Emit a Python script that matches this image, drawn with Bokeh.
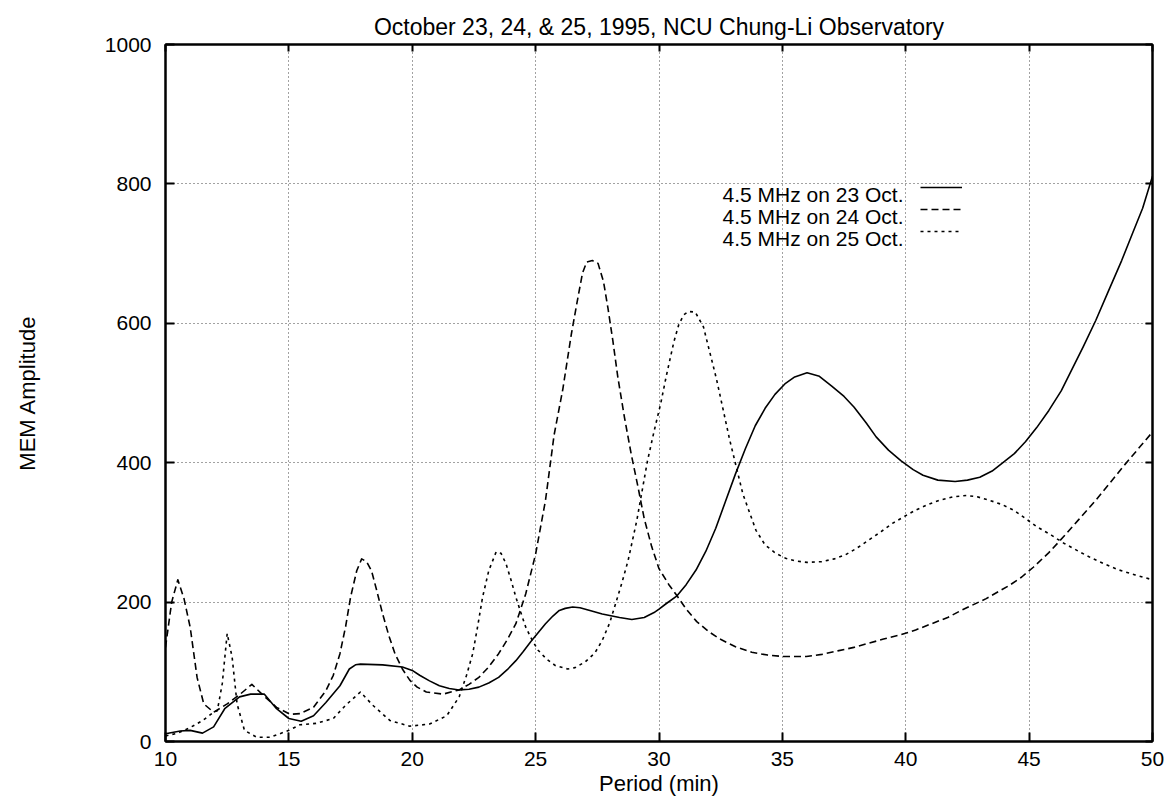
from bokeh.plotting import figure
from bokeh.models import (FixedTicker, LinearAxis, Legend, LegendItem, Label,
                          CustomJSTickFormatter)
from bokeh.embed import file_html
from bokeh.resources import INLINE

FONT = "Liberation Sans"

title_text = "October 23, 24, & 25, 1995, NCU Chung-Li Observatory"
x_label = "Period (min)"
y_label = "MEM Amplitude"
x_ticks = [10, 15, 20, 25, 30, 35, 40, 45, 50]
y_ticks = [0, 200, 400, 600, 800, 1000]

series_names = ["4.5 MHz on 23 Oct.", "4.5 MHz on 24 Oct.", "4.5 MHz on 25 Oct."]

# 23 Oct (solid)
x_23 = [10, 10.6, 11, 11.5, 11.95, 12.4, 13.0, 13.45, 14.0, 14.5, 15.0, 15.5, 16.0,
        16.5, 17.07, 17.45, 17.7, 17.9, 18.8, 19.6, 20.0, 20.3, 20.7, 21.1, 21.5,
        21.9, 22.3, 22.7, 23.1, 23.5, 23.85, 24.2, 24.5, 24.8, 25.1, 25.4, 25.7,
        25.96, 26.2, 26.5, 26.8, 27.2, 27.7, 28.4, 28.9, 29.4, 29.8, 30.0, 30.3,
        30.73, 31.1, 31.5, 31.9, 32.3, 32.7, 33.1, 33.5, 33.9, 34.3, 34.7, 35.1,
        35.5, 36.0, 36.5, 37.0, 37.5, 37.9, 38.4, 38.8, 39.3, 39.8, 40.3, 40.7,
        41.3, 42.0, 42.5, 43.0, 43.5, 43.9, 44.4, 44.85, 45.3, 45.8, 46.3, 46.75,
        47.2, 47.7, 48.2, 48.75, 49.2, 49.6, 50.0]
y_23 = [11, 15, 16, 12, 21, 47, 64, 68, 68, 47, 33, 29, 37,
        56, 80, 104, 110, 111, 110, 107, 102, 95, 87, 80, 76,
        74, 75, 78, 84, 92, 103, 116, 129, 143, 156, 169, 180,
        188, 191, 193, 192, 188, 183, 178, 175, 178, 185, 190, 198,
        209, 225, 246, 273, 306, 345, 384, 420, 453, 478, 498, 513,
        523, 529, 524, 510, 495, 480, 457, 437, 418, 403, 390, 382,
        375, 373, 375, 379, 388, 399, 413, 430, 450, 475, 503, 535,
        567, 604, 645, 690, 730, 765, 811]

# 24 Oct (dashed)
x_24 = [10, 10.25, 10.5, 10.75, 11.0, 11.28, 11.55, 11.95, 12.5, 13.03, 13.5, 13.97,
        14.5, 15.05, 15.45, 16.0, 16.5, 16.8, 17.07, 17.3, 17.5, 17.75, 17.95, 18.15,
        18.35, 18.55, 18.8, 19.05, 19.3, 19.6, 19.9, 20.2, 20.57, 21.25, 21.9, 22.3,
        22.7, 23.1, 23.5, 23.85, 24.2, 24.6, 25.0, 25.4, 25.75, 26.1, 26.45, 26.73,
        26.9, 27.07, 27.3, 27.53, 27.75, 27.93, 28.13, 28.33, 28.6, 28.87, 29.15,
        29.4, 29.7, 30.0, 30.4, 30.73, 31.1, 31.53, 32.0, 32.47, 33.1, 33.76, 34.4,
        35.0, 35.97, 36.6, 37.24, 37.9, 38.5, 39.1, 39.78, 40.4, 41.05, 41.7, 42.3,
        43.26, 44.2, 44.7, 45.17, 45.8, 46.4, 47.0, 47.7, 48.3, 48.8, 49.4, 50.0]
y_24 = [135, 200, 232, 205, 164, 92, 54, 42, 54, 68, 82, 66,
        49, 39, 40, 49, 73, 95, 126, 165, 207, 245, 262, 258,
        245, 218, 183, 152, 126, 104, 88, 78, 71, 68, 74, 82,
        92, 107, 126, 146, 169, 212, 269, 346, 440, 505, 585, 640,
        672, 688, 690, 686, 660, 622, 575, 523, 465, 413, 365,
        320, 280, 248, 225, 209, 190, 172, 158, 147, 136, 128, 124,
        122, 122, 125, 130, 135, 141, 147, 153, 160, 169, 178, 189,
        205, 224, 236, 250, 271, 294, 318, 346, 372, 394, 419, 444]

# 25 Oct (dotted)
x_25 = [10, 10.5, 11.0, 11.5, 11.95, 12.1, 12.3, 12.5, 12.7, 12.9, 13.2, 13.7, 14.24,
        15.0, 15.45, 16.1, 16.8, 17.3, 17.9, 18.4, 19.1, 19.9, 20.7, 21.4, 21.9,
        22.2, 22.45, 22.65, 22.85, 23.1, 23.4, 23.6, 23.8, 24.0, 24.2, 24.4, 24.6,
        24.85, 25.1, 25.45, 25.8, 26.3, 26.6, 27.0, 27.4, 27.7, 28.0, 28.2, 28.5,
        28.75, 29.1, 29.53, 29.8, 30.07, 30.3, 30.6, 30.8, 31.0, 31.2, 31.47, 31.8,
        32.33, 32.87, 33.4, 33.93, 34.3, 34.73, 35.13, 35.53, 36.0, 36.6, 37.1,
        37.56, 38.0, 38.5, 39.0, 39.46, 40.0, 40.4, 40.9, 41.36, 41.9, 42.47, 42.9,
        43.4, 43.9, 44.37, 44.85, 45.32, 45.9, 46.43, 47.0, 47.54, 48.1, 48.65,
        49.3, 50.0]
y_25 = [8, 12, 20, 30, 42, 44, 83, 155, 121, 54, 16, 6, 6,
        16, 24, 26, 33, 52, 71, 52, 30, 22, 25, 37, 64,
        95, 126, 165, 207, 245, 272, 270, 255, 232, 207, 185, 164,
        146, 131, 118, 109, 104, 106, 114, 127, 145, 170, 193, 228,
        260, 317, 402, 445, 485, 525, 573, 598, 612, 617, 616, 595,
        520, 432, 355, 303, 282, 270, 263, 259, 257, 258, 262,
        268, 277, 289, 301, 313, 324, 332, 340, 346, 351, 353, 351,
        346, 340, 332, 320, 308, 296, 284, 273, 263, 254, 246,
        239, 232]

p = figure(width=1171, height=803, x_range=(10, 50), y_range=(0, 1000),
           output_backend="svg", toolbar_location=None,
           min_border_left=165, min_border_right=19, min_border_top=44,
           min_border_bottom=62, background_fill_color="white",
           border_fill_color="white")

p.title.text = title_text
p.title.align = "center"
p.title.text_font = FONT
p.title.text_font_size = "23px"
p.title.text_font_style = "normal"
p.title.text_color = "black"
p.title.standoff = 10

p.outline_line_color = "black"
p.outline_line_width = 2

for ax, ticks in ((p.xaxis[0], x_ticks), (p.yaxis[0], y_ticks)):
    ax.ticker = FixedTicker(ticks=ticks)
    ax.major_tick_in = 9
    ax.major_tick_out = 0
    ax.minor_tick_in = 0
    ax.minor_tick_out = 0
    ax.major_tick_line_width = 2
    ax.axis_line_width = 2
    ax.axis_line_color = "black"
    ax.major_label_text_font = FONT
    ax.major_label_text_font_size = "21px"
    ax.major_label_text_color = "black"
    ax.axis_label_text_font = FONT
    ax.axis_label_text_font_size = "22px"
    ax.axis_label_text_font_style = "normal"
    ax.axis_label_text_color = "black"

p.xaxis[0].axis_label = x_label
p.xaxis[0].major_label_standoff = 10
p.xaxis[0].axis_label_standoff = 2
p.yaxis[0].axis_label = y_label
p.yaxis[0].major_label_standoff = 14
p.yaxis[0].axis_label_standoff = 62

for loc, ticks in (("above", x_ticks), ("right", y_ticks)):
    ax = LinearAxis(ticker=FixedTicker(ticks=ticks),
                    formatter=CustomJSTickFormatter(code="return ''"),
                    major_label_text_font_size="0px", major_label_standoff=0,
                    major_tick_in=7, major_tick_out=0, minor_tick_in=0,
                    minor_tick_out=0, major_tick_line_width=2,
                    axis_line_width=2, axis_line_color="black")
    p.add_layout(ax, loc)

for g, ticks in ((p.xgrid[0], x_ticks), (p.ygrid[0], y_ticks)):
    g.ticker = FixedTicker(ticks=ticks)
    g.grid_line_color = "#444444"
    g.grid_line_dash = "1 3"
    g.grid_line_width = 1

r23 = p.line(x_23, y_23, line_color="black", line_width=1.6, line_join="round")
r24 = p.line(x_24, y_24, line_color="black", line_width=1.6, line_dash="7 4",
             line_join="round")
r25 = p.line(x_25, y_25, line_color="black", line_width=1.6, line_dash="3 4",
             line_join="round")

legend = Legend(items=[LegendItem(label=" ", renderers=[r]) for r in (r23, r24, r25)],
                location=(755, 499), glyph_width=42, glyph_height=22,
                label_height=22, label_width=0, label_standoff=0, padding=0,
                spacing=0, margin=0, border_line_alpha=0, background_fill_alpha=0,
                label_text_font_size="1px")
p.add_layout(legend)

for i, name in enumerate(series_names):
    p.add_layout(Label(x=738, y=547 - 22 * i, x_units="screen", y_units="screen",
                       text=name, text_align="right", text_baseline="alphabetic",
                       text_font=FONT, text_font_size="21px", text_color="black"))

open("out.html", "w").write(file_html(p, INLINE))
